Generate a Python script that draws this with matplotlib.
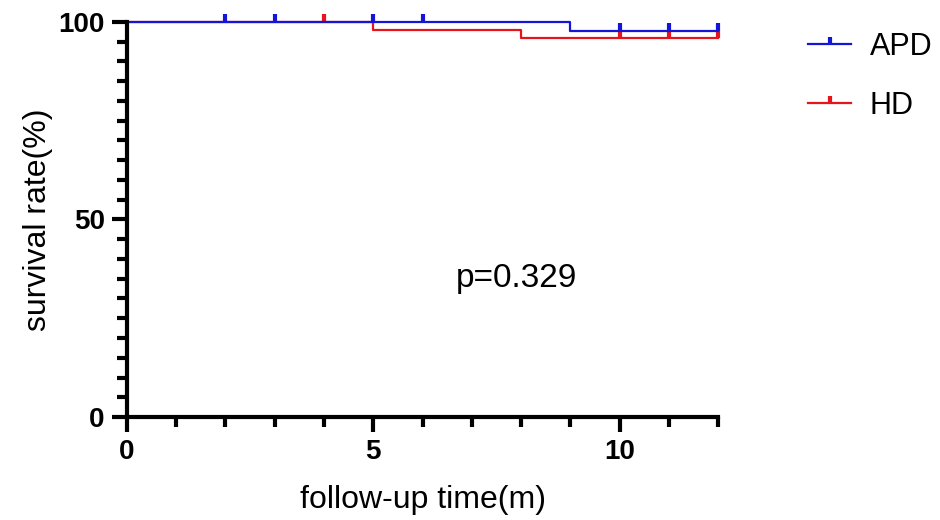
import matplotlib.pyplot as plt
from matplotlib.path import Path
from matplotlib.lines import Line2D
from matplotlib.ticker import MultipleLocator

plt.rcParams['font.family'] = ['Liberation Sans', 'DejaVu Sans']

# step data (time in months, survival %)
apd_t = [0, 9, 12]
apd_s = [100, 97.7, 97.7]
apd_cens_t = [2, 3, 5, 6, 10, 11, 12]
apd_cens_s = [100, 100, 100, 100, 97.7, 97.7, 97.7]

hd_t = [0, 5, 8, 12]
hd_s = [100, 97.9, 96.0, 96.0]
hd_cens_t = [4, 10, 11, 12]
hd_cens_s = [100, 96.0, 96.0, 96.0]

p_text = "p=0.329"

# upward tick marker for censored points
tick = Path([(0, 0), (0, 1)], [Path.MOVETO, Path.LINETO])

fig = plt.figure(figsize=(9.4, 5.2), dpi=100)
ax = fig.add_axes([0.135, 0.198, 0.629, 0.760])

ax.step(hd_t, hd_s, where='post', color='#e8141b', lw=1.6)
ax.plot(hd_cens_t, hd_cens_s, ls='none', marker=tick, ms=11, mew=3, color='#e8141b')
ax.step(apd_t, apd_s, where='post', color='#1515d8', lw=1.6)
ax.plot(apd_cens_t, apd_cens_s, ls='none', marker=tick, ms=11, mew=3, color='#1515d8')

ax.set_xlim(0, 12)
ax.set_ylim(0, 100)
ax.xaxis.set_major_locator(MultipleLocator(5))
ax.xaxis.set_minor_locator(MultipleLocator(1))
ax.yaxis.set_major_locator(MultipleLocator(50))
ax.yaxis.set_minor_locator(MultipleLocator(5))

for s in ['top', 'right']:
    ax.spines[s].set_visible(False)
for s in ['left', 'bottom']:
    ax.spines[s].set_linewidth(3)
ax.tick_params(which='major', length=11, width=3, labelsize=20, pad=5)
ax.tick_params(which='minor', length=7, width=3)
for lab in ax.get_xticklabels() + ax.get_yticklabels():
    lab.set_fontweight('bold')

ax.set_xlabel('follow-up time(m)', fontsize=23, labelpad=14)
ax.set_ylabel('survival rate(%)', fontsize=23, labelpad=4)

ax.text(7.9, 35, p_text, fontsize=24, ha='center', va='center')

handles = [Line2D([], [], color='#1515d8', lw=1.6, marker=tick, ms=10, mew=3),
           Line2D([], [], color='#e8141b', lw=1.6, marker=tick, ms=10, mew=3)]
ax.legend(handles, ['APD', 'HD'], loc='upper left', bbox_to_anchor=(1.132, 1.005),
          frameon=False, fontsize=22, handlelength=1.4, labelspacing=0.95,
          handletextpad=0.6, borderaxespad=0)

for line in ax.lines:
    line.set_clip_on(False)

fig.savefig('out.png', dpi=100)
